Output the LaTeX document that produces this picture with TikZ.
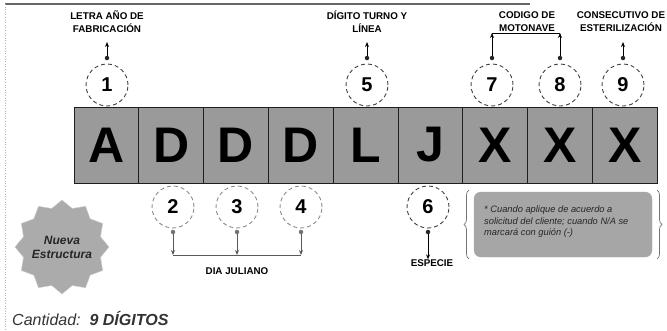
\documentclass[tikz,border=0pt]{standalone}
\usepackage{fontspec}
\setmainfont{Liberation Sans}
\usetikzlibrary{arrows.meta,shapes.geometric,decorations.pathreplacing}
\definecolor{boxgray}{HTML}{9A9A9A}
\definecolor{notegray}{HTML}{A6A6A6}
\definecolor{stargray}{HTML}{ABABAB}
\definecolor{inkdark}{HTML}{1E1E1E}
\tikzset{
  digitbox/.style={draw=inkdark,line width=0.9pt,fill=boxgray,minimum width=64.8pt,minimum height=76pt,inner sep=0pt,
    font=\fontsize{50}{50}\selectfont\bfseries,text=black},
  numcirc/.style={circle,draw=#1,dashed,dash pattern=on 4pt off 3pt,line width=0.9pt,minimum size=42pt,inner sep=0pt,
    font=\fontsize{20}{20}\selectfont\bfseries},
  numcirc/.default={black!75},
  lbl/.style={font=\fontsize{9.8}{13}\selectfont\bfseries,align=center,inner sep=0pt},
  conn/.style={line width=0.9pt,-{Stealth[length=5pt,width=4pt]}},
  plainline/.style={line width=0.9pt},
  dotmark/.style={circle,fill=black!85,inner sep=0pt,minimum size=4.5pt},
}
\begin{document}
\begin{tikzpicture}[x=1pt,y=-1pt]
\useasboundingbox (0,0) rectangle (667,330);
% frame lines
\draw[black!60,line width=1.4pt] (5,4) -- (530,4);
\draw[black!30,dotted,line width=0.6pt] (5,4) -- (5,330);
% digit boxes
\foreach \i/\t in {1/A,2/D,3/D,4/D,5/L,6/J,7/X,8/X,9/X}{
  \node[digitbox] (b\i) at ({106.4+64.8*(\i-1)},145) {\t};
}
% top circles
\node[numcirc] (c1) at (107,85) {1};
\node[numcirc] (c5) at (367,85) {5};
\node[numcirc] (c7) at (492,85) {7};
\node[numcirc] (c8) at (560,85) {8};
\node[numcirc] (c9) at (623,85) {9};
% bottom circles
\node[numcirc=black!45] (c2) at (173,207) {2};
\node[numcirc=black!45] (c3) at (237,207) {3};
\node[numcirc=black!45] (c4) at (301,207) {4};
\node[numcirc=black!75] (c6) at (428,207) {6};
% top labels
\node[lbl] (l1) at (107,22) {LETRA AÑO DE\\FABRICACIÓN};
\node[lbl] (l5) at (367,22) {DÍGITO TURNO Y\\LÍNEA};
\node[lbl] (l78) at (527,22) {CODIGO DE\\MOTONAVE};
\node[lbl] (l9) at (621,22) {CONSECUTIVO DE\\ESTERILIZACIÓN};
% top dots
\node[dotmark] (d1) at (107,58) {};
\node[dotmark] (d5) at (367,58) {};
\node[dotmark] (d7) at (492,58) {};
\node[dotmark] (d8) at (560,58) {};
\node[dotmark] (d9) at (623,58) {};
\draw[conn] (d1) -- (107,42);
\draw[conn] (d5) -- (367,42);
\draw[conn] (d9) -- (623,42);
\coordinate (k7) at (492,33);
\coordinate (k8) at (560,33);
\draw[conn] (d7) -- (k7);
\draw[conn] (d8) -- (k8);
\draw[plainline] (k7) -- (k8);
% bottom dots
\node[dotmark,fill=black!55] (d2) at (173,232) {};
\node[dotmark,fill=black!55] (d3) at (237,232) {};
\node[dotmark,fill=black!55] (d4) at (301,232) {};
\node[dotmark] (d6) at (428,232) {};
\coordinate (j2) at (173,255);
\coordinate (j3) at (237,255);
\coordinate (j4) at (301,255);
\draw[conn,black!65] (d2) -- (j2);
\draw[conn,black!65] (d3) -- (j3);
\draw[conn,black!65] (d4) -- (j4);
\draw[plainline,black!65] (j2) -- (j4);
\node[lbl] (ldj) at (237,271) {DIA JULIANO};
\node[lbl] (lesp) at (432,263) {ESPECIE};
\draw[conn] (d6) -- (lesp.north -| d6);
% note box
\node[draw=black!35,fill=notegray,rounded corners=7pt,minimum width=178pt,minimum height=65pt,inner sep=0pt] (nb) at (563,224.5) {};
\node[font=\fontsize{9.3}{11.5}\selectfont\itshape,align=left,anchor=north west,inner sep=0pt,text=black!85] (nt) at (484,206)
  {* Cuando aplique de acuerdo a\\solicitud del cliente; cuando N/A se\\marcará con guión (-)};
\draw[black!55,line width=0.7pt,decorate,decoration={brace,amplitude=5pt}] (469,259) -- (469,190);
\draw[black!55,line width=0.7pt,decorate,decoration={brace,amplitude=5pt}] (657,190) -- (657,259);
% star
\node[star,star points=12,star point ratio=1.18,minimum size=94pt,fill=stargray,draw=black!20,inner sep=0pt] (st) at (62,247) {};
\node[font=\fontsize{12}{14}\selectfont\bfseries\itshape,align=center,text=black!85] (stt) at (62,247) {Nueva\\Estructura};
% cantidad
\node[anchor=west,inner sep=0pt,font=\fontsize{16}{16}\selectfont,text=black!80] (cant) at (12,319)
  {\itshape Cantidad:\ \ \bfseries 9 DÍGITOS};
\end{tikzpicture}
\end{document}
